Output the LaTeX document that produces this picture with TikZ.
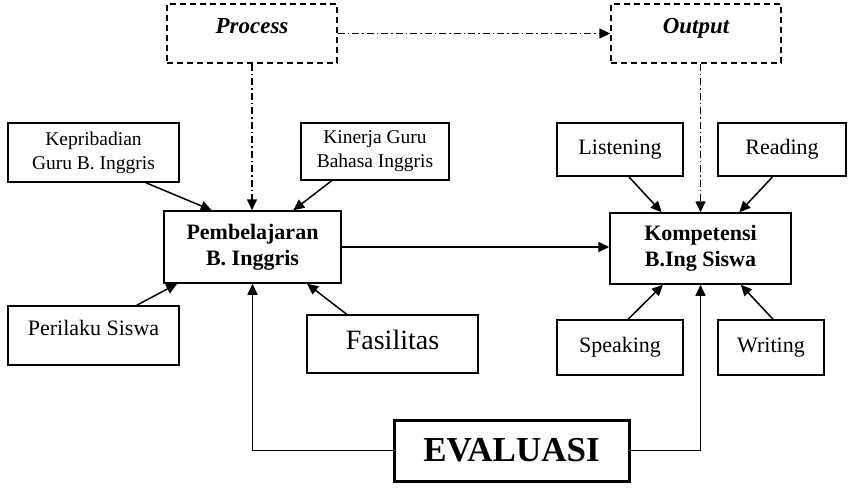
\documentclass[tikz,border=0pt]{standalone}
\usepackage{fontspec}
\setmainfont{Liberation Serif}
\usetikzlibrary{arrows.meta}

\begin{document}
\begin{tikzpicture}[x=1pt,y=-1pt,line width=1.5pt,
  >={Triangle[length=11pt,width=10pt]},
  box/.style={draw,inner sep=0pt,align=center,font=\fontsize{22}{26}\selectfont},
  small/.style={box,font=\fontsize{19.5}{24}\selectfont},
  bold/.style={box,font=\fontsize{22}{26}\selectfont\bfseries},
  phase/.style={box,dash pattern=on 6pt off 4pt,minimum width=170pt,minimum height=59pt,
    font=\fontsize{23}{26}\selectfont\bfseries\itshape,text height=15.2pt,text depth=16pt},
  dashdot/.style={dash pattern=on 7pt off 3pt on 1.5pt off 3pt}]
  \useasboundingbox (0,0) rectangle (848,488);
  % top row
  \node[phase] (process) at (252,33.5) {Process};
  \node[phase] (output) at (696,33.5) {Output};
  % left group
  \node[small,minimum width=171pt,minimum height=59pt] (kepribadian) at (93.5,152.5) {Kepribadian\\Guru B. Inggris};
  \node[small,minimum width=148pt,minimum height=57pt] (kinerja) at (375,151.5) {Kinerja Guru\\Bahasa Inggris};
  \node[bold,minimum width=177pt,minimum height=72pt] (pembelajaran) at (252.5,247) {Pembelajaran\\B. Inggris};
  \node[box,minimum width=171pt,minimum height=59pt,text height=15pt,text depth=16pt] (perilaku) at (93.5,335.5) {Perilaku Siswa};
  \node[box,font=\fontsize{28}{32}\selectfont,minimum width=171pt,minimum height=58pt,text height=19pt,text depth=9pt] (fasilitas) at (392.5,344) {Fasilitas};
  % right group
  \node[bold,minimum width=181pt,minimum height=71pt] (kompetensi) at (700.5,248.5) {Kompetensi\\B.Ing Siswa};
  \node[box,minimum width=126pt,minimum height=53pt] (listening) at (620,149.5) {Listening};
  \node[box,minimum width=128pt,minimum height=53pt] (reading) at (782,149.5) {Reading};
  \node[box,minimum width=126pt,minimum height=55pt] (speaking) at (620,347.5) {Speaking};
  \node[box,minimum width=106pt,minimum height=55pt] (writing) at (771,347.5) {Writing};
  \node[box,line width=3pt,minimum width=235pt,minimum height=61pt,font=\fontsize{35}{40}\selectfont\bfseries] (evaluasi) at (511.5,450.5) {EVALUASI};

  \path[->]
    (kepribadian.-30) edge (pembelajaran.138)
    (kinerja.-146) edge (pembelajaran.42)
    (perilaku.35) edge (pembelajaran.-154)
    (fasilitas.147) edge (pembelajaran.-34)
    (pembelajaran.east) edge (pembelajaran.east -| kompetensi.west)
    (listening.-72) edge (kompetensi.137)
    (reading.-109) edge (kompetensi.43)
    (speaking.74) edge (kompetensi.-136)
    (writing.86) edge (kompetensi.-42)
  ;
  \path[->,dashdot]
    (process) edge (output)
    (process.south) edge (process.south |- pembelajaran.north)
    (kompetensi.north |- output.south) edge (kompetensi.north)
  ;
  \draw[->] (evaluasi.west) -| (pembelajaran.south);
  \draw[->] (evaluasi.east) -| (kompetensi.south);
\end{tikzpicture}
\end{document}
